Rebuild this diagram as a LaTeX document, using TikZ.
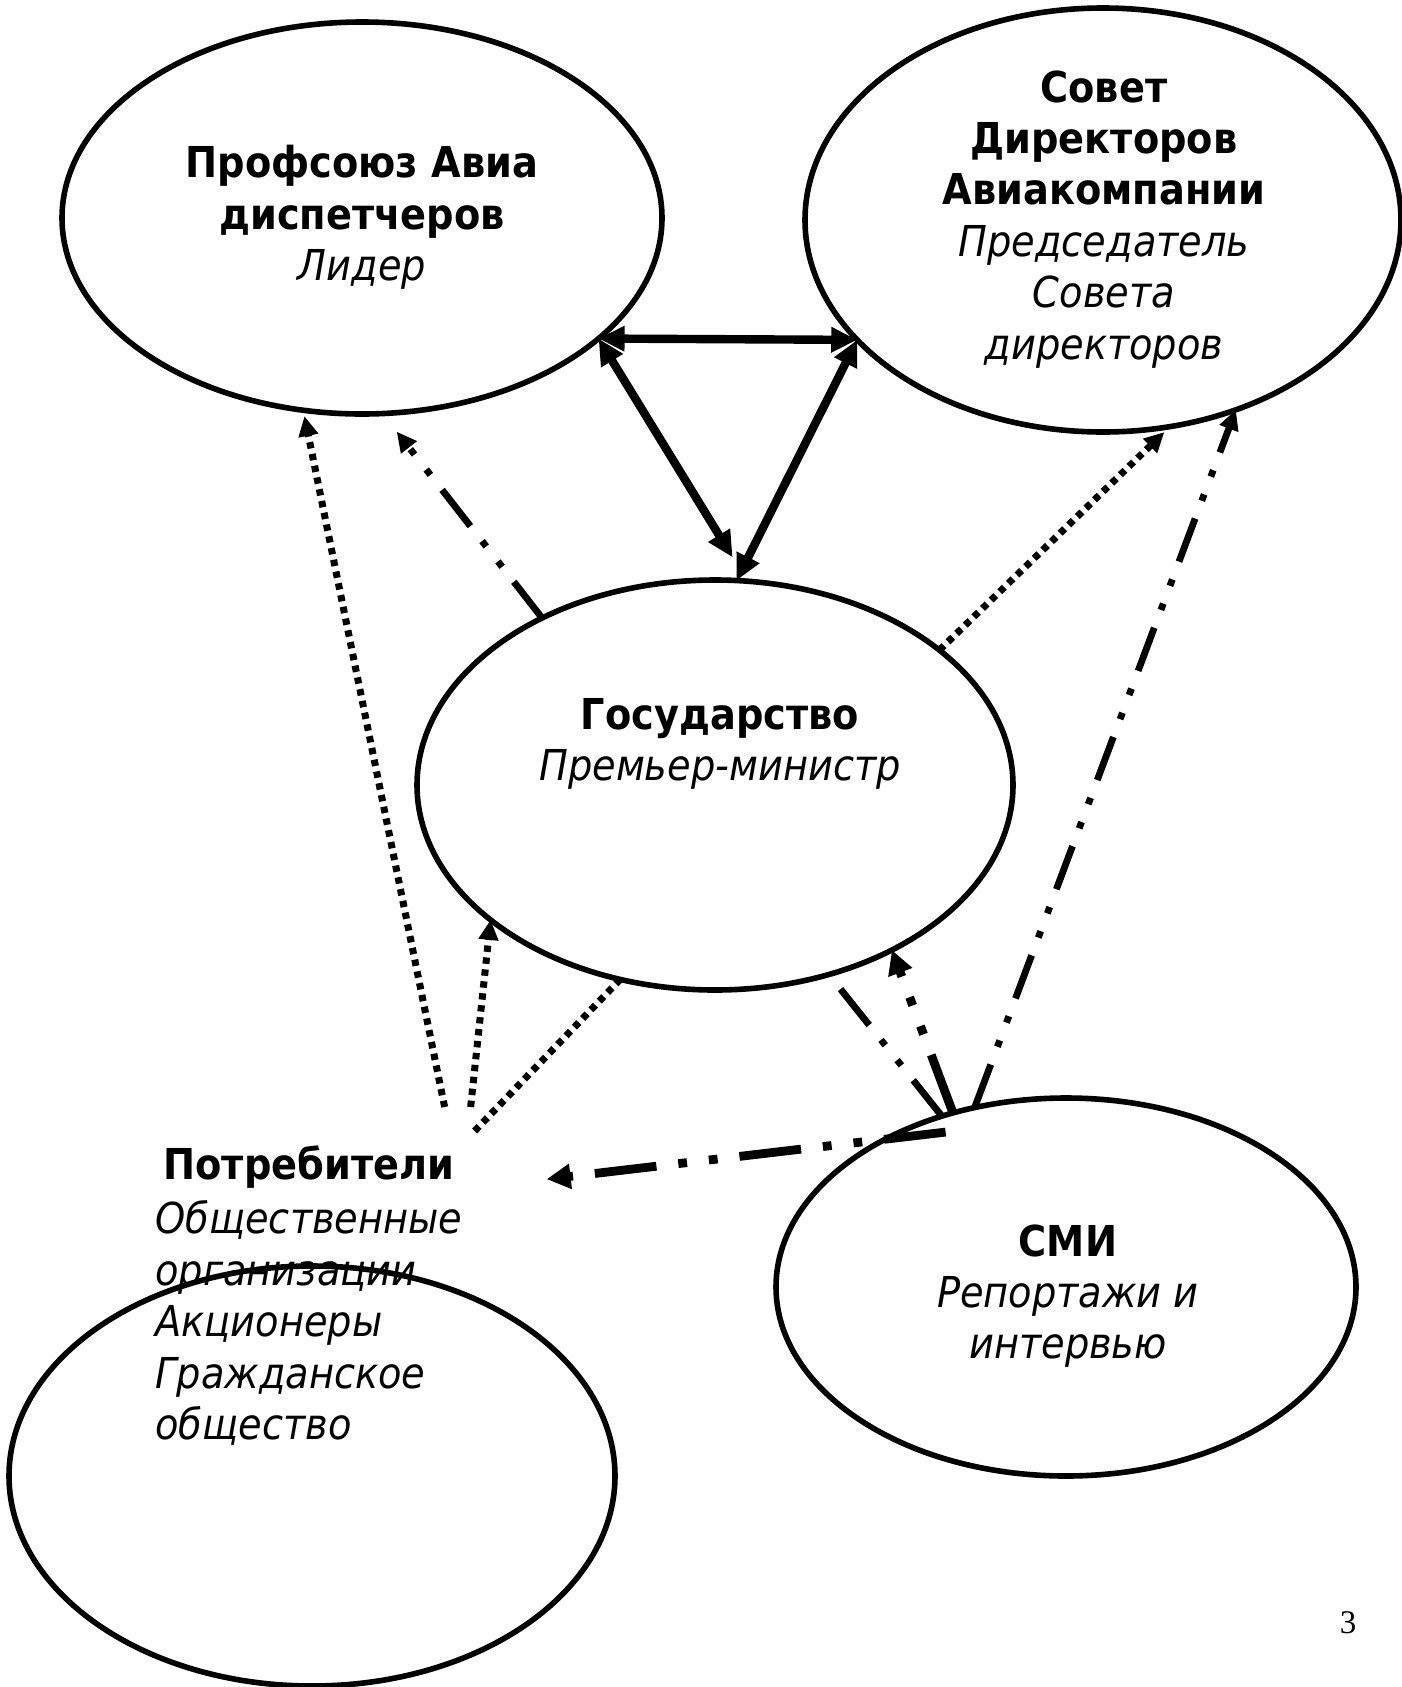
\documentclass[tikz,border=0pt]{standalone}
\usepackage{fontspec}
\setmainfont{DejaVu Sans Condensed}
\newfontfamily\pagefont{Liberation Serif}
\usetikzlibrary{positioning, shapes.geometric, arrows.meta}

\tikzset{
  actor/.style={ellipse, draw, line width=2.8pt, inner sep=0pt, outer sep=0pt},
  caption/.style={align=center, inner sep=0pt, font=\fontsize{21.3}{25.7}\selectfont},
  bold link/.style={line width=4.2pt, {Triangle[length=13pt,width=12pt]}-{Triangle[length=13pt,width=12pt]}},
  dotline/.style={line width=3.5pt, dash pattern=on 3.2pt off 2.8pt},
  dashline/.style={line width=3.4pt, dash pattern=on 23pt off 9.5pt on 3.4pt off 9.5pt on 3.4pt off 9.5pt},
  heavydash/.style={line width=4.4pt, dash pattern=on 31pt off 11pt on 4.4pt off 11pt on 4.4pt off 11pt},
  arrowhead/.style={-{Triangle[length=10pt,width=9.5pt]}},
  bigarrowhead/.style={-{Triangle[length=12pt,width=12pt]}}
}

\begin{document}
\begin{tikzpicture}[x=0.5pt, y=-0.5pt]
\fill[white] (0,0) rectangle (1402,1687);
\useasboundingbox (0,0) rectangle (1402,1687);

\node[actor, minimum width=300pt, minimum height=196pt] (union) at (362,218) {};
\node[actor, minimum width=298pt, minimum height=212pt] (board) at (1103,220) {};
\node[actor, minimum width=298pt, minimum height=205pt] (gov) at (715,785) {};
\node[actor, minimum width=290pt, minimum height=189pt] (media) at (1066,1287) {};
\node[actor, minimum width=303pt, minimum height=210pt] (public) at (312,1476) {};

\node[caption, anchor=north] (uniontxt) at (362,145) {\textbf{Профсоюз Авиа}\\\textbf{диспетчеров}\\\textit{Лидер}};
\node[caption, anchor=north] (boardtxt) at (1104,70) {\textbf{Совет}\\\textbf{Директоров}\\\textbf{Авиакомпании}\\\textit{Председатель}\\\textit{Совета}\\\textit{директоров}};
\node[caption, anchor=north] (govtxt) at (720,698) {\textbf{Государство}\\\textit{Премьер-министр}};
\node[caption, anchor=north] (mediatxt) at (1068,1224) {\textbf{СМИ}\\\textit{Репортажи и}\\\textit{интервью}};
\node[caption, anchor=north west] (consname) at (163,1145) {\textbf{Потребители}};
\node[caption, align=left, below right=6pt and -4pt of consname.south west] (conslist) {\textit{Общественные}\\\textit{организации}\\\textit{Акционеры}\\\textit{Гражданское}\\\textit{общество}};
\node[font=\pagefont\fontsize{16.5}{19}\selectfont, inner sep=0pt, anchor=base] (page) at (1348,1633) {3};

\coordinate[above left=19pt and 5pt of consname.north east] (ca);
\coordinate[above right=19pt and 8pt of consname.north east] (cb);
\coordinate[above right=7pt and 10pt of consname.north east] (cc);
\coordinate[right=46pt of consname.base east] (cin);

\draw[bold link] (union.-27) -- (board.206);
\draw[bold link, shorten >=14pt] (union.-27) -- (gov.81);
\draw[bold link] (board.206) -- (gov.84);

\draw[dotline, arrowhead, shorten >=3pt] (ca) -- (union.-107);
\draw[dotline, arrowhead] (cb) -- (gov.211);
\draw[dotline] (cc) -- (gov.-116);
\draw[dashline, arrowhead, shorten >=11.5pt] (gov.136) -- (union.-84);
\draw[dotline, arrowhead, shorten >=4pt] (gov.31) -- (board.-72);
\draw[dashline, arrowhead] (media.117) -- (board.-55);
\draw[dashline] (media.126) -- (gov.-59);
\draw[heavydash, bigarrowhead] (media.123) -- (gov.-43);
\draw[heavydash, bigarrowhead] ([yshift=-8.5pt]media.125) -- (cin);

\end{tikzpicture}
\end{document}
